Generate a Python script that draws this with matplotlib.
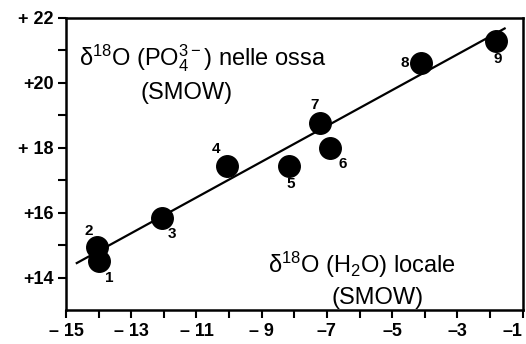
import matplotlib.pyplot as plt
import numpy as np

plt.rcParams['font.family'] = ['Liberation Sans', 'DejaVu Sans']
plt.rcParams['mathtext.fontset'] = 'custom'
plt.rcParams['mathtext.rm'] = 'Liberation Sans'
plt.rcParams['mathtext.it'] = 'Liberation Sans'
plt.rcParams['mathtext.bf'] = 'Liberation Sans:bold'

# delta18O of local water vs delta18O of bone phosphate
ids = ['1', '2', '3', '4', '5', '6', '7', '8', '9']
h2o = [-14.0, -14.05, -12.05, -10.05, -8.15, -6.9, -7.2, -4.1, -1.8]
po4 = [14.5, 14.95, 15.85, 17.45, 17.45, 17.98, 18.75, 20.6, 21.3]
# label offsets (points) for each sample number
lab_dx = [8, -6, 7, -8, 1, 9, -4, -12, 1]
lab_dy = [-12, 11, -12, 12, -13, -11, 13, 0, -13]

# regression line
fit_x = [-14.67, -1.55]
slope = 0.551
intercept = 22.53

x_major = [-15, -13, -11, -9, -7, -5, -3, -1]
x_labels = ['– 15', '– 13', '– 11', '– 9', '–7', '–5', '–3', '–1']
y_major = [14, 16, 18, 20, 22]
y_labels = ['+14', '+16', '+ 18', '+20', '+ 22']

fig = plt.figure(figsize=(5.26, 3.44), dpi=100)
ax = fig.add_axes([0.1255, 0.0988, 0.868, 0.849])

fx = np.array(fit_x)
ax.plot(fx, slope * fx + intercept, color='black', lw=1.6, zorder=2)
ax.plot(h2o, po4, 'o', color='black', ms=15.5, zorder=3)

for i, t in enumerate(ids):
    ax.annotate(t, (h2o[i], po4[i]), xytext=(lab_dx[i], lab_dy[i]),
                textcoords='offset points', ha='center', va='center',
                fontsize=11, fontweight='bold')

ax.set_xlim(-15, -1)
ax.set_ylim(13, 22)
ax.set_xticks(x_major)
ax.set_xticklabels(x_labels)
ax.set_xticks(np.arange(-14, -1, 2), minor=True)
ax.set_yticks(y_major)
ax.set_yticklabels(y_labels)
ax.set_yticks([15, 17, 19, 21], minor=True)
ax.tick_params(which='both', direction='out', width=1.5, length=6,
               labelsize=13, pad=3)
for lab in ax.get_xticklabels() + ax.get_yticklabels():
    lab.set_fontweight('bold')
ax.get_xticklabels()[-1].set_horizontalalignment('right')
for s in ax.spines.values():
    s.set_linewidth(1.8)

ax.text(-14.6, 20.55, r'$\mathregular{\delta^{18}}$O (PO$_{\mathregular{4}}^{\mathregular{3-}}$) nelle ossa',
        fontsize=17, ha='left', va='baseline')
ax.text(-11.3, 19.5, '(SMOW)', fontsize=17, ha='center', va='baseline')
ax.text(-8.8, 14.15, r'$\mathregular{\delta^{18}}$O (H$_{\mathregular{2}}$O) locale',
        fontsize=17, ha='left', va='baseline')
ax.text(-5.45, 13.2, '(SMOW)', fontsize=17, ha='center', va='baseline')

plt.savefig('out.png', dpi=100)
